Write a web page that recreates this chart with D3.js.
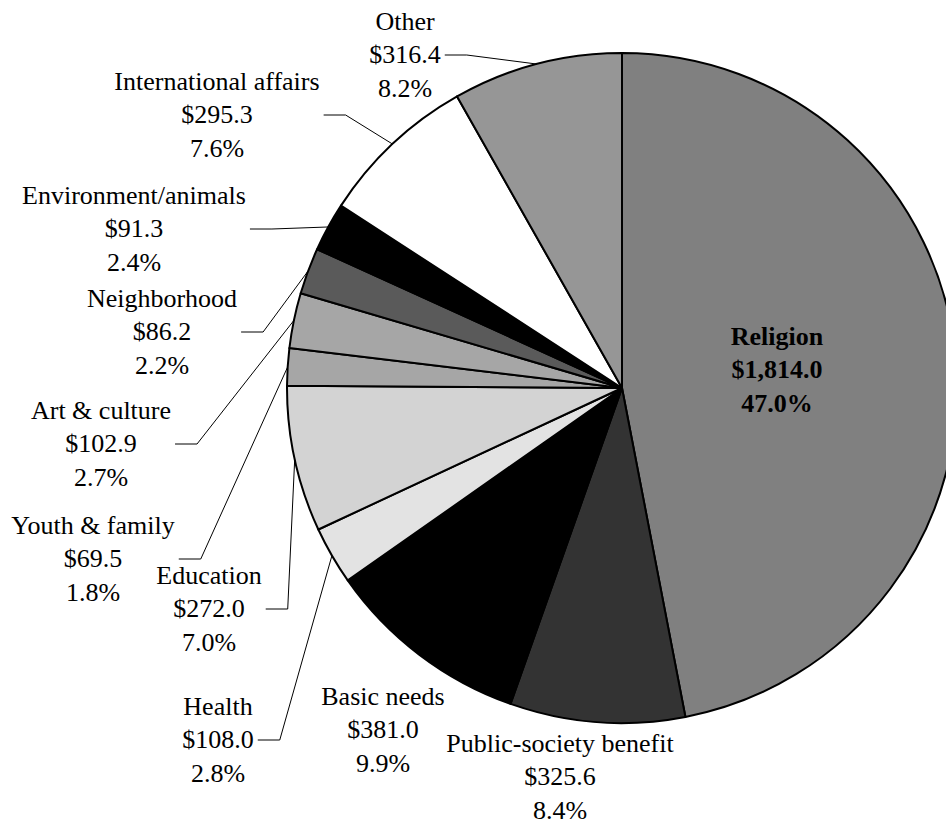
<!DOCTYPE html>
<html>
<head>
<meta charset="utf-8">
<script src="https://cdn.jsdelivr.net/npm/d3@7"></script>
<style>
  html, body { margin: 0; padding: 0; background: #fff; }
  svg { display: block; }
  text { font-family: "Liberation Serif", "Times New Roman", serif; font-size: 26px; fill: #000; }
</style>
</head>
<body>
<svg id="chart" width="946" height="824"></svg>
<script>
// giving by category, $ billions (clockwise from 12 o'clock)
const categories = ["Religion", "Public-society benefit", "Basic needs", "Health", "Education",
    "Youth & family", "Art & culture", "Neighborhood", "Environment/animals",
    "International affairs", "Other"];
const amounts = [1814.0, 325.6, 381.0, 108.0, 272.0, 69.5, 102.9, 86.2, 91.3, 295.3, 316.4];
const percents = [47.0, 8.4, 9.9, 2.8, 7.0, 1.8, 2.7, 2.2, 2.4, 7.6, 8.2];

// slice fills, same order as categories
const fills = ["#808080", "#333333", "#000000", "#e3e3e3", "#d3d3d3",
    "#a6a6a6", "#a6a6a6", "#5a5a5a", "#000000", "#ffffff", "#969696"];

// label placement: centre x, baseline of the middle line, leader line or not
const labelLayout = [
    { x: 777, y: 378, leader: false, bold: true },   // Religion
    { x: 560, y: 785, leader: false },               // Public-society benefit
    { x: 383, y: 738, leader: false },               // Basic needs
    { x: 218, y: 748, leader: true },                // Health
    { x: 209, y: 617, leader: true },                // Education
    { x: 93,  y: 567, leader: true },                // Youth & family
    { x: 101, y: 452, leader: true },                // Art & culture
    { x: 162, y: 340, leader: true },                // Neighborhood
    { x: 134, y: 237, leader: true },                // Environment/animals
    { x: 217, y: 123, leader: true },                // International affairs
    { x: 405, y: 63,  leader: true }                 // Other
];

const cx = 622, cy = 388, radius = 335;
const lineGap = 33.5;

const data = categories.map((name, i) => ({
    name: name,
    amount: amounts[i],
    pct: percents[i],
    fill: fills[i],
    layout: labelLayout[i]
}));

const svg = d3.select('#chart');
const g = svg.append('g').attr('transform', `translate(${cx},${cy})`);

const pie = d3.pie()
    .sort(null)
    .value(d => d.amount);

const arc = d3.arc()
    .innerRadius(0)
    .outerRadius(radius);

const arcs = pie(data);

g.selectAll('path.slice')
    .data(arcs)
    .enter()
    .append('path')
    .attr('class', 'slice')
    .attr('d', arc)
    .attr('fill', d => d.data.fill)
    .attr('stroke', '#000')
    .attr('stroke-width', 2)
    .attr('stroke-linejoin', 'round');

const fmtMoney = d3.format(',.1f');
const fmtPct = d3.format('.1f');

// labels
const labels = svg.append('g');
arcs.forEach(a => {
    const d = a.data;
    const lay = d.layout;
    const t = labels.append('text')
        .attr('text-anchor', 'middle')
        .attr('font-weight', lay.bold ? 'bold' : null);
    const lines = [d.name, '$' + fmtMoney(d.amount), fmtPct(d.pct) + '%'];
    lines.forEach((s, k) => {
        t.append('tspan')
            .attr('x', lay.x)
            .attr('y', lay.y + (k - 1) * lineGap)
            .text(s);
    });

    if (lay.leader) {
        const w = t.node().getBBox().width;
        const x0 = lay.x + w / 2 + 4;
        const y0 = lay.y - 8;
        const mid = (a.startAngle + a.endAngle) / 2;
        const px = cx + radius * Math.sin(mid);
        const py = cy - radius * Math.cos(mid);
        labels.append('path')
            .attr('d', d3.line()([[x0, y0], [x0 + 22, y0], [px, py]]))
            .attr('fill', 'none')
            .attr('stroke', '#000')
            .attr('stroke-width', 1);
    }
});
</script>
</body>
</html>
